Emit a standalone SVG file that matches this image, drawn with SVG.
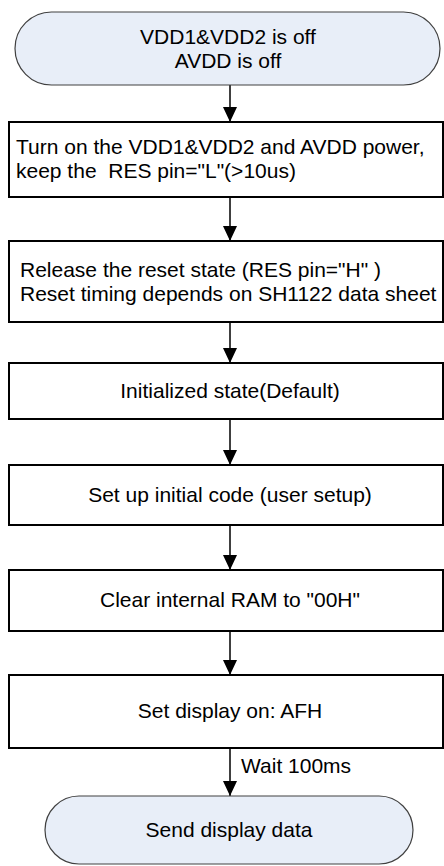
<svg xmlns="http://www.w3.org/2000/svg" width="444" height="866" viewBox="0 0 444 866">
<style>
.term{fill:#e8eef8;stroke:#404040;stroke-width:1.2}
.box{fill:#ffffff;stroke:#000000;stroke-width:2}
.t{font-family:"Liberation Sans",Arial,sans-serif;font-size:21px;fill:#000}
.c{text-anchor:middle}
.edge{stroke:#000;stroke-width:1.5;fill:none;marker-end:url(#ah)}
</style>
<defs>
<marker id="ah" markerWidth="15" markerHeight="14" refX="15" refY="7" orient="auto" markerUnits="userSpaceOnUse">
<path d="M0,0 L15,7 L0,14 Z" fill="#000"/>
</marker>
</defs>
<rect width="444" height="866" fill="#ffffff"/>
<g id="connectors">
<line class="edge" x1="230" y1="85" x2="230" y2="122"/>
<line class="edge" x1="230" y1="197" x2="230" y2="241"/>
<line class="edge" x1="230" y1="322" x2="230" y2="363"/>
<line class="edge" x1="230" y1="419" x2="230" y2="465"/>
<line class="edge" x1="230" y1="525" x2="230" y2="570"/>
<line class="edge" x1="230" y1="631" x2="230" y2="675"/>
<line class="edge" x1="230" y1="748" x2="230" y2="796"/>
<text class="t" x="241" y="773">Wait 100ms</text>
</g>
<g id="start">
<rect class="term" x="15" y="12" width="425" height="73" rx="36.5" ry="36.5"/>
<text class="t c" x="228" y="44">VDD1&amp;VDD2 is off</text>
<text class="t c" x="228" y="68">AVDD is off</text>
</g>
<g id="power-on">
<rect class="box" x="9" y="122" width="434" height="75"/>
<text class="t" x="16" y="154">Turn on the VDD1&amp;VDD2 and AVDD power,</text>
<text class="t" x="16" y="178" xml:space="preserve">keep the  RES pin="L"(&gt;10us)</text>
</g>
<g id="release-reset">
<rect class="box" x="9" y="241" width="434" height="81"/>
<text class="t" x="20" y="277">Release the reset state (RES pin="H" )</text>
<text class="t" x="20" y="301">Reset timing depends on SH1122 data sheet</text>
</g>
<g id="initialized">
<rect class="box" x="9" y="363" width="434" height="56"/>
<text class="t c" x="230" y="398">Initialized state(Default)</text>
</g>
<g id="setup-code">
<rect class="box" x="9" y="465" width="434" height="60"/>
<text class="t c" x="230" y="502">Set up initial code (user setup)</text>
</g>
<g id="clear-ram">
<rect class="box" x="9" y="570" width="434" height="61"/>
<text class="t c" x="230" y="607">Clear internal RAM to "00H"</text>
</g>
<g id="display-on">
<rect class="box" x="9" y="675" width="434" height="73"/>
<text class="t c" x="230" y="718">Set display on: AFH</text>
</g>
<g id="send-data">
<rect class="term" x="45" y="796" width="368" height="68" rx="34" ry="34"/>
<text class="t c" x="229" y="837">Send display data</text>
</g>
</svg>
